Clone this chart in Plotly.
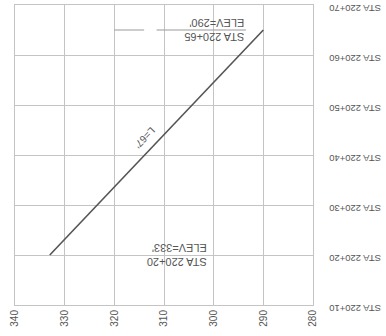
import plotly.graph_objects as go

# station offsets along the profile (STA 220+xx) and elevations
sta = [20, 65]
elev = [333, 290]
length_label = "L=67'"

x_ticks = [340, 330, 320, 310, 300, 290, 280]
y_ticks = [10, 20, 30, 40, 50, 60, 70]
y_ticktext = ['STA 220+%d' % v for v in y_ticks]

grey = '#c4c4c4'
ink = '#555555'

fig = go.Figure()

fig.add_trace(
    go.Scatter(
        x=elev,
        y=sta,
        mode='lines',
        line=dict(color=ink, width=1.6),
        hoverinfo='skip',
        showlegend=False
    )
)

# leader line at the end station
fig.add_shape(
    type='line',
    x0=320, x1=314, y0=sta[1], y1=sta[1],
    line=dict(color='#999999', width=1)
)
fig.add_shape(
    type='line',
    x0=311.5, x1=elev[1] + 3.5, y0=sta[1], y1=sta[1],
    line=dict(color='#999999', width=1)
)

fig.add_annotation(
    x=307.4, y=sta[0],
    text='STA 220+%d<br>ELEV=%d\'' % (sta[0], elev[0]),
    textangle=180, showarrow=False, align='left',
    xanchor='center', yanchor='middle',
    font=dict(size=11, color=ink)
)
fig.add_annotation(
    x=299.8, y=sta[1],
    text='STA 220+%d<br>ELEV=%d\'' % (sta[1], elev[1]),
    textangle=180, showarrow=False, align='left',
    xanchor='center', yanchor='middle',
    font=dict(size=11, color=ink)
)
fig.add_annotation(
    x=313.8, y=43.4,
    text=length_label,
    textangle=134, showarrow=False,
    font=dict(size=10, color=ink)
)

# upside-down station labels on the right edge
for v, t in zip(y_ticks, y_ticktext):
    fig.add_annotation(
        x=1, xref='paper', y=v, yref='y',
        text=t, textangle=180, showarrow=False,
        xanchor='left', yanchor='middle', xshift=14, yshift=-4,
        font=dict(size=9.5, color=ink)
    )

fig.update_xaxes(
    range=[340, 280],
    tickvals=x_ticks,
    tickangle=-90,
    showgrid=True,
    gridcolor=grey,
    showline=True,
    linecolor=grey,
    mirror=True,
    zeroline=False,
    ticks='',
    automargin=False,
    tickfont=dict(size=10, color=ink)
)
fig.update_yaxes(
    range=[10, 70],
    tickvals=y_ticks,
    showticklabels=False,
    showgrid=True,
    gridcolor=grey,
    showline=True,
    linecolor=grey,
    mirror=True,
    zeroline=False,
    ticks='',
    automargin=False
)
fig.update_layout(
    width=386,
    height=336,
    margin=dict(l=15, r=73, t=5, b=31),
    plot_bgcolor='#FFFFFF',
    paper_bgcolor='#FFFFFF',
    font=dict(family='Liberation Sans')
)

# drop the default 8px body margin so the figure fills the window
fig.write_html('out.html', config={'displayModeBar': False},
               post_script="document.body.style.margin='0';")
